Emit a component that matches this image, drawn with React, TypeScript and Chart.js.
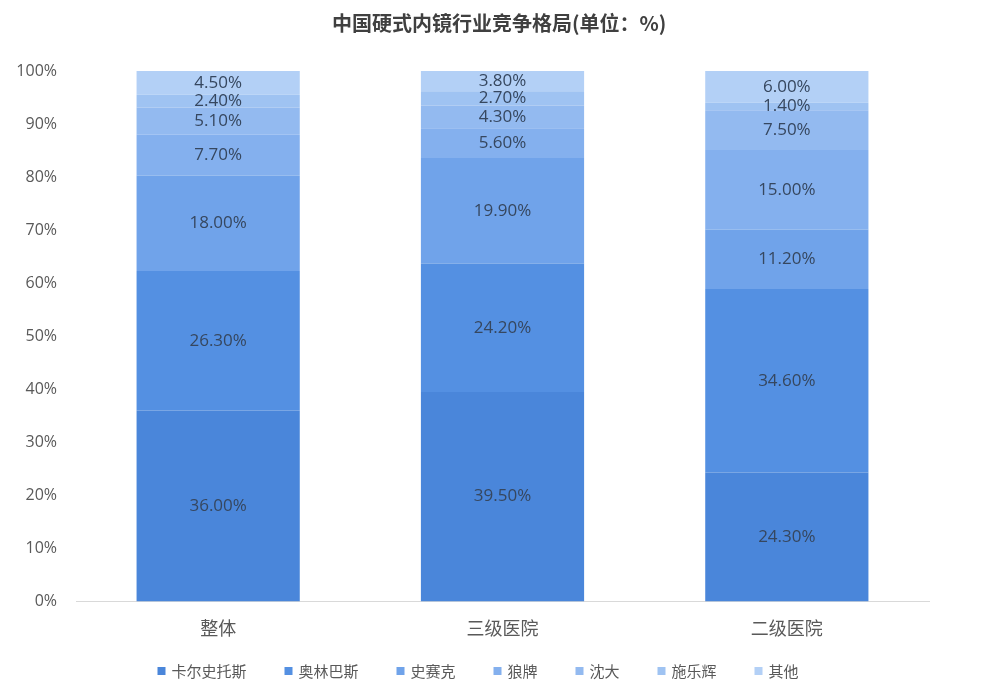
import React, { useEffect, useRef } from "react";
import { Chart, registerables } from "chart.js";

Chart.register(...registerables);

const title = "中国硬式内镜行业竞争格局(单位：%)";
const categories = ["整体", "三级医院", "二级医院"];
const seriesNames = ["卡尔史托斯", "奥林巴斯", "史赛克", "狼牌", "沈大", "施乐辉", "其他"];
const kals = [36.0, 39.5, 24.3];
const olympus = [26.3, 24.2, 34.6];
const stryker = [18.0, 19.9, 11.2];
const wolf = [7.7, 5.6, 15.0];
const shenda = [5.1, 4.3, 7.5];
const smith = [2.4, 2.7, 1.4];
const others = [4.5, 3.8, 6.0];
const seriesValues = [kals, olympus, stryker, wolf, shenda, smith, others];
const colors = ["#4A86DA", "#5490E2", "#70A3EA", "#84B0EE", "#93BAF0", "#9FC3F2", "#B3D0F6"];
const yTicks = [0, 10, 20, 30, 40, 50, 60, 70, 80, 90, 100];

const FONT = "'Open Sans', 'Noto Sans CJK SC', sans-serif";
const CJK = "'Noto Sans CJK SC', sans-serif";

const labelPlugin = {
  id: "segLabels",
  afterDatasetsDraw(chart: any) {
    const ctx = chart.ctx;
    ctx.save();
    ctx.font = `17px ${FONT}`;
    ctx.fillStyle = "#36475F";
    ctx.textAlign = "center";
    ctx.textBaseline = "middle";
    chart.data.datasets.forEach((ds: any, i: number) => {
      const meta = chart.getDatasetMeta(i);
      meta.data.forEach((bar: any, j: number) => {
        const v = ds.data[j];
        const yMid = (bar.y + bar.base) / 2;
        ctx.fillText(v.toFixed(2) + "%", bar.x, yMid);
      });
    });
    ctx.restore();
  },
};

const titleLegendPlugin = {
  id: "titleLegend",
  afterDraw(chart: any) {
    const ctx = chart.ctx;
    ctx.save();
    ctx.font = `bold 20px ${CJK}`;
    ctx.fillStyle = "#404040";
    ctx.textAlign = "left";
    ctx.textBaseline = "middle";
    ctx.fillText(title, 332, 23);

    // legend
    ctx.font = `15px ${CJK}`;
    const box = 8;
    const gapText = 6;
    const gapItem = 38;
    const widths = seriesNames.map((n) => ctx.measureText(n).width);
    const total =
      widths.reduce((a, b) => a + b + box + gapText, 0) + gapItem * (seriesNames.length - 1);
    let x = 478 - total / 2;
    const y = 671;
    seriesNames.forEach((n, i) => {
      ctx.fillStyle = colors[i];
      ctx.fillRect(x, y - box / 2, box, box);
      ctx.fillStyle = "#595959";
      ctx.fillText(n, x + box + gapText, y);
      x += box + gapText + widths[i] + gapItem;
    });
    ctx.restore();
  },
};

export default function App() {
  const ref = useRef<HTMLCanvasElement>(null);
  useEffect(() => {
    document.body.style.margin = "0";
    const chart = new Chart(ref.current!, {
      type: "bar",
      data: {
        labels: categories,
        datasets: seriesNames.map((name, i) => ({
          label: name,
          data: seriesValues[i],
          backgroundColor: colors[i],
          borderWidth: 0,
          categoryPercentage: 1,
          barPercentage: 0.574,
        })),
      },
      options: {
        animation: false,
        responsive: false,
        maintainAspectRatio: false,
        layout: { padding: { left: 0, right: 52, top: 71, bottom: 50 } },
        plugins: {
          title: { display: false },
          legend: { display: false },
          tooltip: { enabled: false },
        },
        scales: {
          x: {
            stacked: true,
            grid: { display: false },
            border: { display: true, color: "#D9D9D9" },
            ticks: { color: "#595959", font: { family: CJK, size: 18 }, padding: 8 },
          },
          y: {
            stacked: true,
            min: 0,
            max: 100,
            afterFit: (s: any) => { s.width = 76; },
            afterBuildTicks: (s: any) => { s.ticks = yTicks.map((v) => ({ value: v })); },
            grid: { display: false, drawTicks: false },
            border: { display: false },
            ticks: {
              color: "#595959",
              font: { family: FONT, size: 16 },
              padding: 19,
              callback: (v: any) => v + "%",
            },
          },
        },
      },
      plugins: [labelPlugin, titleLegendPlugin],
    });
    return () => chart.destroy();
  }, []);
  return (
    <div style={{ width: 981, height: 697, background: "#fff" }}>
      <canvas ref={ref} width={981} height={697} style={{ display: "block" }} />
    </div>
  );
}
